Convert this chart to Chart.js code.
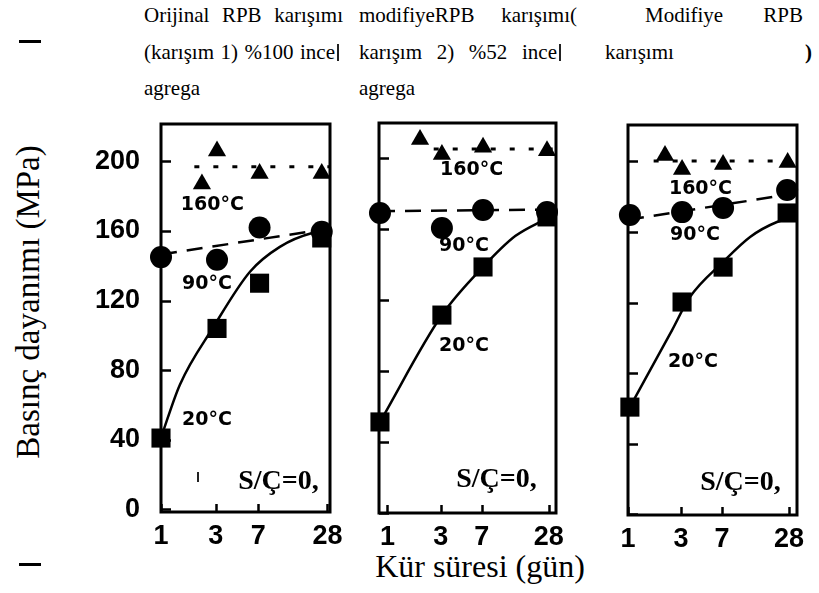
<!DOCTYPE html>
<html>
<head>
<meta charset="utf-8">
<script src="https://cdn.jsdelivr.net/npm/chart.js@4.4.1/dist/chart.umd.min.js"></script>
<style>
body { margin: 0; background: #fff; width: 819px; height: 593px; overflow: hidden; position: relative;
       font-family: "Liberation Serif", "Times New Roman", serif; color: #000; }
canvas { position: absolute; left: 0; top: 0; }
.hd { position: absolute; font-size: 21px; line-height: 21px; white-space: nowrap; }
.jf { text-align: justify; text-align-last: justify; white-space: normal; }
.bar { position: absolute; background: #222; }
#ytitle { position: absolute; left: 28px; top: 302px; font-size: 33px; white-space: nowrap;
          transform: translate(-50%, -50%) rotate(-90deg); }
#xtitle { position: absolute; left: 480px; top: 550px; font-size: 32px; line-height: 32px;
          white-space: nowrap; transform: translateX(-50%); }
</style>
</head>
<body>

<div class="hd jf" style="left:144px;top:5px;width:199px">Orijinal RPB karışımı</div>
<div class="hd jf" style="left:144px;top:42px;width:191px">(karışım 1) %100 ince</div>
<div class="hd" style="left:144px;top:78px">agrega</div>
<div class="bar" style="left:337px;top:44px;width:2px;height:17px"></div>

<div class="hd jf" style="left:359px;top:5px;width:218px">modifiyeRPB karışımı(</div>
<div class="hd jf" style="left:359px;top:42px;width:198px">karışım 2) %52 ince</div>
<div class="hd" style="left:359px;top:78px">agrega</div>
<div class="bar" style="left:559px;top:44px;width:2px;height:17px"></div>

<div class="hd jf" style="left:645px;top:5px;width:158px">Modifiye RPB</div>
<div class="hd" style="left:605px;top:42px">karışımı</div>
<div class="hd" style="left:805px;top:42px;font-weight:bold">)</div>

<div class="bar" style="left:19px;top:40px;width:22px;height:3px;background:#000"></div>
<div class="bar" style="left:19px;top:563px;width:22px;height:3px;background:#000"></div>
<div class="bar" style="left:197px;top:472px;width:2px;height:10px"></div>

<div id="ytitle">Basınç dayanımı (MPa)</div>
<div id="xtitle">Kür süresi (gün)</div>

<canvas id="c1" width="819" height="593"></canvas>
<canvas id="c2" width="819" height="593"></canvas>
<canvas id="c3" width="819" height="593"></canvas>

<script>
// tick labels
const xTicks = [1, 3, 7, 28];
const yTicks = [0, 40, 80, 120, 160, 200];

// panel 1 - orijinal RPB (karışım 1)
const p1TriX = [2.27, 3.07, 7.2, 25];
const p1TriY = [187, 206, 193, 193];
const p1CirX = [1, 3.07, 7.2, 25];
const p1CirY = [145, 143.5, 162, 159.5];
const p1SqX = [1, 3.07, 7.2, 25];
const p1SqY = [41, 104, 130, 156];
const p1DotX = [1.95, 29.5];
const p1DotY = [197, 197];
const p1DashX = [1, 29.5];
const p1DashY = [146.5, 161.5];
const p1CurveX = [1, 1.46, 2.83, 5.94, 10.8, 21, 29.5];
const p1CurveY = [41.3, 71.7, 104.4, 136.6, 150.9, 159, 160.1];

// panel 2 - modifiye RPB (karışım 2)
const p2TriX = [1.96, 3.08, 7.2, 27];
const p2TriY = [210.4, 202, 206, 204];
const p2CirX = [0.857, 3.08, 7.2, 27];
const p2CirY = [169, 160.6, 170.7, 169.6];
const p2SqX = [0.857, 3.08, 7.2, 27];
const p2SqY = [51.3, 111.5, 138.6, 166.8];
const p2DotX = [2.6, 32.5];
const p2DotY = [205, 205];
const p2DashX = [0.84, 32.5];
const p2DashY = [170, 171];
const p2CurveX = [0.857, 3.08, 7.2, 14, 27];
const p2CurveY = [51.3, 111.5, 138.6, 156, 166];

// panel 3 - modifiye RPB karışımı
const p3TriX = [2.15, 3.06, 7.15, 27.2];
const p3TriY = [203.4, 195.5, 198.3, 199.5];
const p3CirX = [1.04, 3.06, 7.15, 26.9];
const p3CirY = [169.6, 171.3, 173.6, 183.8];
const p3SqX = [1.04, 3.06, 7.15, 26.9];
const p3SqY = [60.7, 120.3, 140.1, 170.8];
const p3DotX = [1.7, 33];
const p3DotY = [200.3, 200.3];
const p3DashX = [1, 33];
const p3DashY = [167, 182];
const p3CurveX = [1.04, 2.49, 3.6, 7.15, 12.5, 21.8, 30.3];
const p3CurveY = [60.7, 104.4, 123.1, 143, 157.2, 165.7, 168];

const tempFont = 'bold 19px "DejaVu Sans"';
const scFont = 'bold 28px "Liberation Serif"';

function pts(xs, ys) {
    return xs.map((x, i) => ({ x: x, y: ys[i] }));
}

function makePanel(id, p) {
    let framePlugin = {
        id: 'frame' + id,
        beforeDatasetsDraw(chart) {
            const { ctx, chartArea: a, scales } = chart;
            ctx.save();
            ctx.strokeStyle = '#000';
            ctx.lineWidth = 2.5;
            ctx.beginPath();
            yTicks.forEach(v => {
                let py = Math.round(scales.y.getPixelForValue(v)) + 0.5;
                ctx.moveTo(a.left, py);
                ctx.lineTo(a.left + 10, py);
            });
            xTicks.forEach(v => {
                let px = Math.round(scales.x.getPixelForValue(v)) + 0.5;
                ctx.moveTo(px, a.bottom);
                ctx.lineTo(px, a.bottom - 8);
            });
            ctx.stroke();
            ctx.lineWidth = 3;
            ctx.strokeRect(a.left, a.top, a.right - a.left, a.bottom - a.top);
            ctx.restore();
        }
    };
    let textPlugin = {
        id: 'text' + id,
        afterDatasetsDraw(chart) {
            const { ctx, scales } = chart;
            ctx.save();
            ctx.fillStyle = '#000';
            ctx.textAlign = 'center';
            p.labels.forEach(l => {
                ctx.font = l.font;
                ctx.textBaseline = l.base;
                ctx.fillText(l.text, scales.x.getPixelForValue(l.x), scales.y.getPixelForValue(l.y));
            });
            ctx.restore();
        }
    };

    let marker = (data, style, r) => ({
        data: data, showLine: false, pointStyle: style, pointRadius: r,
        backgroundColor: '#000', borderColor: '#000', borderWidth: 0, clip: false
    });
    let line = (data, dash, w, smooth) => ({
        data: data, showLine: true, pointRadius: 0, borderColor: '#000', borderWidth: w,
        borderDash: dash, cubicInterpolationMode: smooth ? 'monotone' : 'default', clip: false
    });

    new Chart(document.getElementById(id), {
        type: 'scatter',
        data: {
            datasets: [
                line(pts(p.dotX, p.dotY), [5, 14], 3, false),
                line(pts(p.dashX, p.dashY), [16, 10], 2.5, false),
                line(pts(p.curveX, p.curveY), [], 2.5, true),
                marker(pts(p.triX, p.triY), 'triangle', 10.5),
                marker(pts(p.cirX, p.cirY), 'circle', 11),
                marker(pts(p.sqX, p.sqY), 'rect', 13.5)
            ]
        },
        options: {
            responsive: false,
            animation: false,
            events: [],
            layout: { padding: p.pad },
            plugins: { legend: { display: false }, tooltip: { enabled: false } },
            scales: {
                x: {
                    type: 'logarithmic', min: p.xMin, max: p.xMax,
                    grid: { display: false, drawTicks: false },
                    border: { display: false },
                    afterBuildTicks: axis => { axis.ticks = xTicks.map(v => ({ value: v })); },
                    afterFit: axis => { axis.height = 60; },
                    ticks: {
                        autoSkip: false, maxRotation: 0, padding: 8, color: '#000',
                        font: { family: 'Liberation Sans', size: 27, weight: 'bold' },
                        callback: v => String(v)
                    }
                },
                y: {
                    min: p.yMin, max: p.yMax,
                    grid: { display: false, drawTicks: false },
                    border: { display: false },
                    afterBuildTicks: axis => { axis.ticks = yTicks.map(v => ({ value: v })); },
                    afterFit: axis => { axis.width = p.yWidth; },
                    ticks: {
                        display: p.yLabels, padding: 21, color: '#000',
                        font: { family: 'Liberation Sans', size: 27, weight: 'bold' }
                    }
                }
            }
        },
        plugins: [framePlugin, textPlugin]
    });
}

makePanel('c1', {
    triX: p1TriX, triY: p1TriY, cirX: p1CirX, cirY: p1CirY, sqX: p1SqX, sqY: p1SqY,
    dotX: p1DotX, dotY: p1DotY, dashX: p1DashX, dashY: p1DashY, curveX: p1CurveX, curveY: p1CurveY,
    xMin: 1, xMax: 29.5, yMin: -1.5, yMax: 221.5, yWidth: 90, yLabels: true,
    pad: { left: 71, right: 489, top: 124, bottom: 21 },
    labels: [
        { text: '160°C', x: 2.8, y: 174.7, font: tempFont, base: 'middle' },
        { text: '90°C', x: 2.51, y: 129.7, font: tempFont, base: 'middle' },
        { text: '20°C', x: 2.51, y: 51.6, font: tempFont, base: 'middle' },
        { text: 'S/Ç=0,', x: 10.5, y: 11.5, font: scFont, base: 'alphabetic' }
    ]
});

makePanel('c2', {
    triX: p2TriX, triY: p2TriY, cirX: p2CirX, cirY: p2CirY, sqX: p2SqX, sqY: p2SqY,
    dotX: p2DotX, dotY: p2DotY, dashX: p2DashX, dashY: p2DashY, curveX: p2CurveX, curveY: p2CurveY,
    xMin: 0.84, xMax: 32.5, yMin: 0, yMax: 219.7, yWidth: 0, yLabels: false,
    pad: { left: 379, right: 263, top: 123, bottom: 20 },
    labels: [
        { text: '160°C', x: 5.68, y: 193, font: tempFont, base: 'middle' },
        { text: '90°C', x: 4.86, y: 150.1, font: tempFont, base: 'middle' },
        { text: '20°C', x: 4.86, y: 93.8, font: tempFont, base: 'middle' },
        { text: 'S/Ç=0,', x: 9.5, y: 14.6, font: scFont, base: 'alphabetic' }
    ]
});

makePanel('c3', {
    triX: p3TriX, triY: p3TriY, cirX: p3CirX, cirY: p3CirY, sqX: p3SqX, sqY: p3SqY,
    dotX: p3DotX, dotY: p3DotY, dashX: p3DashX, dashY: p3DashY, curveX: p3CurveX, curveY: p3CurveY,
    xMin: 1, xMax: 33, yMin: -0.5, yMax: 220.7, yWidth: 0, yLabels: false,
    pad: { left: 628, right: 22, top: 125, bottom: 18 },
    labels: [
        { text: '160°C', x: 4.48, y: 184.1, font: tempFont, base: 'middle' },
        { text: '90°C', x: 4.0, y: 158, font: tempFont, base: 'middle' },
        { text: '20°C', x: 3.84, y: 86.5, font: tempFont, base: 'middle' },
        { text: 'S/Ç=0,', x: 10.25, y: 13.6, font: scFont, base: 'alphabetic' }
    ]
});
</script>
</body>
</html>
